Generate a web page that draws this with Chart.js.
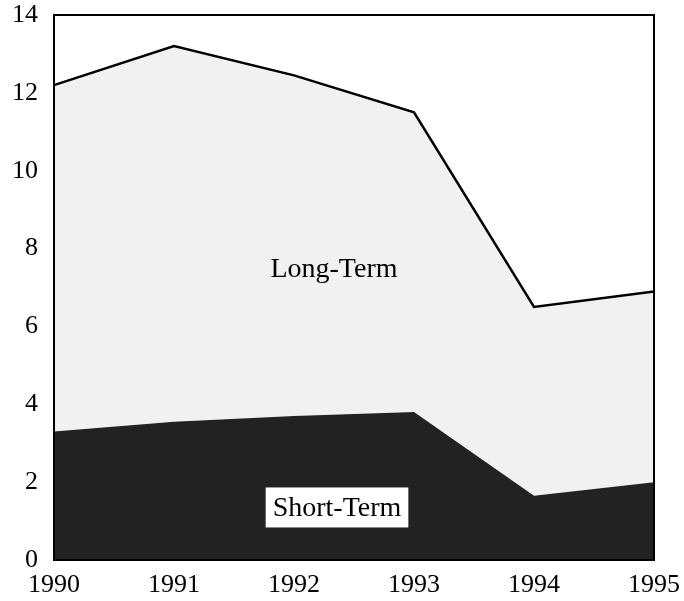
<!DOCTYPE html>
<html>
<head>
<meta charset="utf-8">
<script src="https://cdn.jsdelivr.net/npm/chart.js@4"></script>
<style>
  body { margin: 0; background: #fff; }
  #wrap { width: 684px; height: 601px; }
</style>
</head>
<body>
<div id="wrap"><canvas id="debtChart" width="684" height="601"></canvas></div>
<script>
var years = ["1990", "1991", "1992", "1993", "1994", "1995"];
var shortTerm = [3.3, 3.55, 3.7, 3.8, 1.65, 2.0];
var longTerm = [8.9, 9.65, 8.75, 7.7, 4.85, 4.9];
var yTicks = [0, 2, 4, 6, 8, 10, 12, 14];

var serif = "'Liberation Serif', 'DejaVu Serif', serif";

// box around the plot plus the two area labels
var framePlugin = {
    id: 'frame',
    afterDatasetsDraw: function (chart) {
        const ctx = chart.ctx;
        const a = chart.chartArea;
        const x = chart.scales.x;
        const y = chart.scales.y;
        ctx.save();
        ctx.strokeStyle = '#000';
        ctx.lineWidth = 2;
        ctx.strokeRect(a.left, a.top, a.right - a.left, a.bottom - a.top);

        ctx.font = "28px " + serif;
        ctx.textAlign = 'center';
        ctx.textBaseline = 'middle';

        // labels sit a bit left of the 1992-1993 midpoint
        const mid = (x.getPixelForValue(2) + x.getPixelForValue(3)) / 2;
        ctx.fillStyle = '#000';
        ctx.fillText('Long-Term', mid - 20, y.getPixelForValue(7.45));

        // Short-Term in white box
        const sx = mid - 17;
        const sy = y.getPixelForValue(1.35);
        const w = ctx.measureText('Short-Term').width + 14;
        ctx.fillStyle = '#fff';
        ctx.fillRect(sx - w / 2, sy - 20, w, 40);
        ctx.fillStyle = '#000';
        ctx.fillText('Short-Term', sx, sy + 1);
        ctx.restore();
    }
};

const ctx = document.getElementById('debtChart').getContext('2d');
var debtChart = new Chart(ctx, {
    type: 'line',
    data: {
        labels: years,
        datasets: [
            {
                label: 'Short-Term',
                data: shortTerm,
                fill: 'origin',
                backgroundColor: '#222222',
                borderWidth: 0,
                pointRadius: 0,
                lineTension: 0
            },
            {
                label: 'Long-Term',
                data: longTerm,
                fill: '-1',
                backgroundColor: '#f1f1f1',
                borderColor: '#000',
                borderWidth: 2.5,
                pointRadius: 0,
                lineTension: 0
            }
        ]
    },
    options: {
        responsive: false,
        animation: false,
        layout: { padding: 0 },
        plugins: {
            legend: { display: false },
            tooltip: { enabled: false }
        },
        scales: {
            x: {
                type: 'category',
                offset: false,
                grid: { display: false },
                border: { display: false },
                ticks: {
                    color: '#000',
                    maxRotation: 0,
                    padding: 2,
                    font: { family: serif, size: 26 }
                },
                afterFit: function (scale) {
                    scale.height = 41;
                    scale.paddingRight = 30;
                    scale.paddingLeft = 0;
                }
            },
            y: {
                stacked: true,
                min: 0,
                max: 14,
                grid: { display: false },
                border: { display: false },
                afterBuildTicks: function (scale) {
                    scale.ticks = yTicks.map(function (v) { return { value: v }; });
                },
                ticks: {
                    color: '#000',
                    padding: 8,
                    font: { family: serif, size: 26 }
                },
                afterFit: function (scale) {
                    scale.width = 54;
                    scale.paddingTop = 15;
                    scale.paddingBottom = 0;
                }
            }
        }
    },
    plugins: [framePlugin]
});
</script>
</body>
</html>
